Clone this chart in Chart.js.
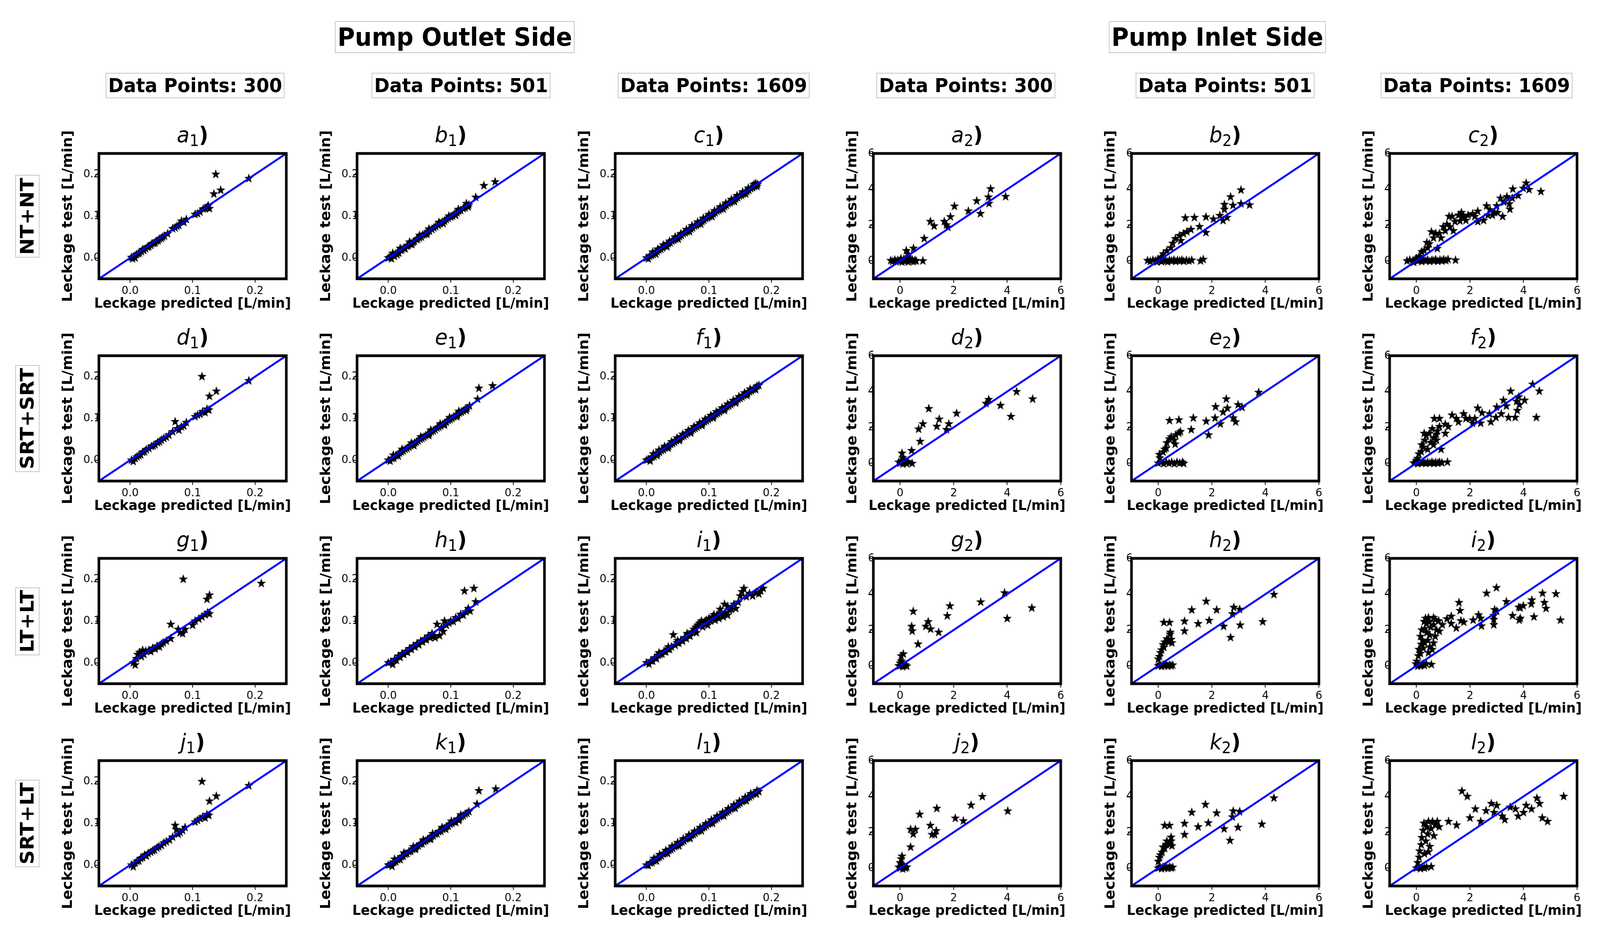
<!DOCTYPE html>
<html>
<head>
<meta charset="utf-8">
<script src="https://cdn.jsdelivr.net/npm/chart.js@4.4.0/dist/chart.umd.min.js"></script>
<style>
  html, body { margin: 0; padding: 0; background: #fff; overflow: hidden; }
  #fig { position: absolute; left: 0; top: 0; width: 4320px; height: 2392px; background: #fff; font-family: "DejaVu Sans"; transform-origin: 0 0; }
  .box { position: absolute; border: 2px solid #c4c4c4; background: #fff; font-weight: bold; white-space: nowrap;
         transform: translate(-50%, -50%); padding: 0 5px; line-height: 1.22; color: #000; }
  .side { font-size: 64px; top: 95px; }
  .pts { font-size: 50px; top: 219px; }
  .row { font-size: 51px; left: 74px; transform: translate(-50%, -50%) rotate(-90deg); }
  canvas { position: absolute; }
</style>
</head>
<body>
<div id="fig">
<div class="box side" style="left:1228px">Pump Outlet Side</div>
<div class="box side" style="left:3287px">Pump Inlet Side</div>
</div>

<script>
// ---- data: [predicted, test] ----
const a1 = [[0.002,0.001],[0.004,-0.002],[0.006,0.003],[0.008,0.0],[0.01,0.008],[0.013,0.01],[0.015,0.012],[0.018,0.015],[0.02,0.02],[0.022,0.018],[0.025,0.022],[0.028,0.026],[0.03,0.027],[0.033,0.03],[0.035,0.034],[0.038,0.035],[0.04,0.036],[0.042,0.04],[0.045,0.041],[0.047,0.045],[0.05,0.047],[0.052,0.05],[0.055,0.052],[0.06,0.058],[0.068,0.07],[0.072,0.072],[0.075,0.076],[0.078,0.078],[0.082,0.088],[0.086,0.085],[0.09,0.092],[0.104,0.104],[0.108,0.106],[0.112,0.11],[0.117,0.117],[0.12,0.118],[0.123,0.121],[0.125,0.125],[0.127,0.118],[0.134,0.153],[0.137,0.2],[0.145,0.162],[0.19,0.19]];
const b1 = [[0.0,0.0],[0.003,0.002],[0.005,-0.002],[0.008,0.006],[0.01,0.004],[0.012,0.01],[0.015,0.013],[0.017,0.012],[0.02,0.018],[0.022,0.02],[0.025,0.023],[0.027,0.022],[0.03,0.028],[0.032,0.03],[0.035,0.033],[0.037,0.034],[0.04,0.037],[0.042,0.04],[0.045,0.044],[0.047,0.045],[0.05,0.048],[0.053,0.05],[0.055,0.055],[0.058,0.056],[0.06,0.058],[0.063,0.062],[0.066,0.064],[0.07,0.068],[0.073,0.072],[0.076,0.075],[0.08,0.078],[0.083,0.082],[0.086,0.085],[0.09,0.088],[0.093,0.092],[0.096,0.095],[0.1,0.098],[0.103,0.1],[0.106,0.105],[0.11,0.108],[0.113,0.112],[0.116,0.114],[0.12,0.118],[0.123,0.12],[0.126,0.125],[0.129,0.127],[0.007,0.011],[0.019,0.023],[0.034,0.038],[0.05,0.054],[0.065,0.069],[0.081,0.085],[0.097,0.1],[0.112,0.116],[0.125,0.13],[0.014,0.008],[0.038,0.032],[0.062,0.057],[0.088,0.082],[0.108,0.102],[0.128,0.122],[0.14,0.145],[0.153,0.173],[0.171,0.182]];
const c1 = [[0.0,0.0],[0.003,-0.002],[0.005,0.004],[0.008,0.006],[0.011,0.008],[0.014,0.013],[0.017,0.015],[0.02,0.019],[0.023,0.021],[0.026,0.024],[0.029,0.028],[0.032,0.03],[0.035,0.034],[0.038,0.036],[0.041,0.04],[0.044,0.042],[0.047,0.045],[0.05,0.049],[0.053,0.051],[0.056,0.054],[0.059,0.058],[0.062,0.06],[0.065,0.063],[0.068,0.067],[0.071,0.069],[0.074,0.072],[0.077,0.076],[0.08,0.078],[0.083,0.081],[0.086,0.085],[0.089,0.087],[0.092,0.09],[0.095,0.094],[0.098,0.096],[0.101,0.099],[0.104,0.103],[0.107,0.105],[0.11,0.108],[0.113,0.112],[0.116,0.114],[0.119,0.117],[0.122,0.121],[0.125,0.123],[0.128,0.126],[0.131,0.13],[0.134,0.132],[0.137,0.135],[0.14,0.139],[0.143,0.141],[0.146,0.144],[0.149,0.148],[0.152,0.15],[0.155,0.153],[0.158,0.157],[0.161,0.159],[0.164,0.162],[0.167,0.166],[0.17,0.168],[0.173,0.171],[0.175,0.178],[0.178,0.176],[0.01,0.014],[0.018,0.021],[0.027,0.031],[0.037,0.04],[0.046,0.05],[0.055,0.058],[0.064,0.068],[0.073,0.077],[0.082,0.086],[0.091,0.095],[0.1,0.104],[0.109,0.113],[0.118,0.122],[0.127,0.131],[0.136,0.14],[0.145,0.149],[0.154,0.158],[0.163,0.167],[0.172,0.176],[0.015,0.009],[0.033,0.027],[0.051,0.045],[0.069,0.063],[0.087,0.081],[0.105,0.099],[0.123,0.117],[0.141,0.135],[0.159,0.153],[0.177,0.171]];
const d1 = [[0.002,0.0],[0.005,-0.003],[0.008,0.004],[0.011,0.008],[0.014,0.011],[0.017,0.013],[0.02,0.019],[0.023,0.02],[0.026,0.025],[0.03,0.028],[0.034,0.033],[0.037,0.034],[0.04,0.037],[0.044,0.042],[0.047,0.044],[0.05,0.048],[0.054,0.052],[0.058,0.055],[0.062,0.06],[0.068,0.068],[0.072,0.092],[0.075,0.075],[0.078,0.072],[0.082,0.08],[0.086,0.082],[0.09,0.09],[0.104,0.104],[0.108,0.108],[0.112,0.11],[0.116,0.116],[0.12,0.114],[0.123,0.122],[0.126,0.12],[0.115,0.2],[0.127,0.153],[0.138,0.165],[0.19,0.19]];
const e1 = [[0.0,0.0],[0.003,-0.002],[0.006,0.004],[0.009,0.005],[0.012,0.011],[0.015,0.012],[0.018,0.017],[0.021,0.02],[0.024,0.022],[0.027,0.026],[0.03,0.028],[0.033,0.031],[0.036,0.035],[0.039,0.037],[0.042,0.041],[0.045,0.043],[0.048,0.046],[0.051,0.05],[0.054,0.052],[0.057,0.055],[0.06,0.059],[0.063,0.061],[0.066,0.064],[0.069,0.068],[0.072,0.07],[0.075,0.073],[0.078,0.077],[0.081,0.079],[0.084,0.082],[0.087,0.086],[0.09,0.088],[0.093,0.091],[0.096,0.095],[0.099,0.097],[0.102,0.1],[0.105,0.104],[0.108,0.106],[0.111,0.109],[0.114,0.113],[0.117,0.115],[0.12,0.118],[0.123,0.122],[0.126,0.124],[0.008,0.012],[0.022,0.026],[0.037,0.041],[0.052,0.056],[0.068,0.072],[0.083,0.087],[0.098,0.102],[0.113,0.117],[0.016,0.01],[0.041,0.035],[0.065,0.059],[0.09,0.084],[0.11,0.104],[0.125,0.119],[0.13,0.13],[0.143,0.146],[0.145,0.172],[0.167,0.178]];
const f1 = [[0.0,0.0],[0.003,0.002],[0.006,-0.002],[0.009,0.007],[0.012,0.009],[0.015,0.014],[0.018,0.016],[0.021,0.019],[0.024,0.023],[0.027,0.025],[0.03,0.029],[0.033,0.031],[0.036,0.034],[0.039,0.038],[0.042,0.04],[0.045,0.043],[0.048,0.047],[0.051,0.049],[0.054,0.052],[0.057,0.056],[0.06,0.058],[0.063,0.061],[0.066,0.065],[0.069,0.067],[0.072,0.07],[0.075,0.074],[0.078,0.076],[0.081,0.079],[0.084,0.083],[0.087,0.085],[0.09,0.088],[0.093,0.092],[0.096,0.094],[0.099,0.097],[0.102,0.101],[0.105,0.103],[0.108,0.106],[0.111,0.11],[0.114,0.112],[0.117,0.115],[0.12,0.119],[0.123,0.121],[0.126,0.124],[0.129,0.128],[0.132,0.13],[0.135,0.133],[0.138,0.137],[0.141,0.139],[0.144,0.142],[0.147,0.146],[0.15,0.148],[0.153,0.151],[0.156,0.155],[0.159,0.157],[0.162,0.16],[0.165,0.164],[0.168,0.166],[0.171,0.169],[0.174,0.172],[0.177,0.177],[0.18,0.179],[0.011,0.015],[0.02,0.024],[0.029,0.033],[0.04,0.044],[0.049,0.053],[0.058,0.062],[0.067,0.071],[0.076,0.08],[0.085,0.089],[0.094,0.098],[0.103,0.107],[0.112,0.116],[0.121,0.125],[0.13,0.134],[0.139,0.143],[0.148,0.152],[0.157,0.161],[0.166,0.17],[0.017,0.011],[0.035,0.029],[0.053,0.047],[0.071,0.065],[0.089,0.083],[0.107,0.101],[0.125,0.119],[0.143,0.137],[0.161,0.155],[0.175,0.169]];
const g1 = [[0.005,0.0],[0.008,-0.005],[0.01,0.01],[0.012,0.02],[0.015,0.025],[0.018,0.015],[0.02,0.03],[0.022,0.02],[0.025,0.028],[0.03,0.03],[0.033,0.027],[0.036,0.035],[0.04,0.033],[0.043,0.04],[0.047,0.038],[0.05,0.045],[0.053,0.048],[0.058,0.052],[0.065,0.058],[0.065,0.092],[0.077,0.08],[0.08,0.072],[0.084,0.07],[0.088,0.08],[0.1,0.09],[0.104,0.1],[0.11,0.105],[0.115,0.11],[0.12,0.115],[0.124,0.12],[0.127,0.117],[0.085,0.2],[0.123,0.152],[0.127,0.162],[0.21,0.19]];
const h1 = [[0.0,0.0],[0.004,0.002],[0.007,-0.004],[0.01,0.008],[0.013,0.006],[0.016,0.016],[0.019,0.013],[0.022,0.022],[0.025,0.02],[0.028,0.027],[0.031,0.025],[0.034,0.034],[0.037,0.032],[0.04,0.04],[0.043,0.038],[0.046,0.046],[0.049,0.043],[0.052,0.052],[0.055,0.05],[0.058,0.057],[0.061,0.055],[0.064,0.064],[0.067,0.06],[0.07,0.07],[0.073,0.064],[0.075,0.06],[0.078,0.092],[0.082,0.065],[0.085,0.084],[0.088,0.075],[0.09,0.1],[0.093,0.09],[0.097,0.095],[0.1,0.1],[0.104,0.099],[0.108,0.108],[0.112,0.106],[0.116,0.116],[0.12,0.114],[0.124,0.122],[0.128,0.13],[0.131,0.124],[0.14,0.146],[0.122,0.172],[0.137,0.178]];
const i1 = [[0.0,0.0],[0.004,-0.003],[0.007,0.005],[0.01,0.004],[0.013,0.012],[0.016,0.01],[0.019,0.018],[0.022,0.02],[0.025,0.021],[0.028,0.027],[0.031,0.026],[0.034,0.033],[0.037,0.032],[0.04,0.038],[0.043,0.067],[0.046,0.042],[0.049,0.048],[0.052,0.047],[0.055,0.054],[0.058,0.052],[0.061,0.06],[0.064,0.058],[0.067,0.066],[0.07,0.064],[0.073,0.074],[0.076,0.08],[0.079,0.085],[0.082,0.09],[0.085,0.095],[0.088,0.1],[0.09,0.086],[0.093,0.098],[0.096,0.102],[0.1,0.106],[0.103,0.1],[0.106,0.11],[0.11,0.102],[0.113,0.115],[0.116,0.106],[0.12,0.118],[0.123,0.11],[0.126,0.12],[0.13,0.114],[0.133,0.126],[0.136,0.128],[0.14,0.14],[0.143,0.13],[0.147,0.145],[0.15,0.16],[0.153,0.17],[0.156,0.178],[0.16,0.158],[0.165,0.166],[0.17,0.16],[0.175,0.168],[0.18,0.165],[0.183,0.172],[0.187,0.178],[0.125,0.14],[0.08,0.072],[0.098,0.09],[0.02,0.024],[0.035,0.038],[0.05,0.053],[0.065,0.07],[0.108,0.115],[0.118,0.128],[0.13,0.135]];
const j1 = [[0.002,0.0],[0.005,-0.004],[0.008,0.005],[0.011,0.009],[0.014,0.01],[0.017,0.016],[0.02,0.018],[0.023,0.024],[0.026,0.022],[0.029,0.028],[0.033,0.031],[0.036,0.034],[0.039,0.036],[0.043,0.041],[0.046,0.044],[0.05,0.047],[0.054,0.053],[0.058,0.056],[0.063,0.06],[0.068,0.067],[0.072,0.095],[0.074,0.085],[0.077,0.074],[0.08,0.078],[0.084,0.083],[0.088,0.09],[0.104,0.103],[0.108,0.107],[0.112,0.111],[0.116,0.115],[0.12,0.113],[0.123,0.121],[0.126,0.119],[0.115,0.2],[0.127,0.153],[0.138,0.165],[0.19,0.19]];
const k1 = [[0.0,0.0],[0.003,0.001],[0.006,-0.003],[0.009,0.007],[0.012,0.008],[0.015,0.013],[0.018,0.015],[0.021,0.02],[0.024,0.021],[0.027,0.026],[0.03,0.027],[0.033,0.032],[0.036,0.033],[0.039,0.038],[0.042,0.039],[0.045,0.044],[0.048,0.046],[0.051,0.05],[0.054,0.051],[0.057,0.056],[0.06,0.058],[0.063,0.062],[0.066,0.063],[0.069,0.068],[0.072,0.07],[0.075,0.074],[0.078,0.075],[0.081,0.08],[0.084,0.081],[0.087,0.086],[0.09,0.088],[0.093,0.092],[0.096,0.093],[0.099,0.098],[0.102,0.1],[0.105,0.104],[0.108,0.102],[0.111,0.11],[0.114,0.111],[0.117,0.116],[0.12,0.118],[0.123,0.122],[0.126,0.124],[0.129,0.128],[0.01,0.014],[0.025,0.029],[0.04,0.044],[0.056,0.06],[0.071,0.075],[0.086,0.09],[0.101,0.105],[0.116,0.12],[0.019,0.013],[0.044,0.038],[0.068,0.062],[0.092,0.086],[0.113,0.107],[0.142,0.146],[0.145,0.178],[0.172,0.182]];
const l1 = [[0.0,0.0],[0.003,-0.001],[0.006,0.005],[0.009,0.006],[0.012,0.01],[0.015,0.013],[0.018,0.017],[0.021,0.019],[0.024,0.022],[0.027,0.026],[0.03,0.028],[0.033,0.031],[0.036,0.035],[0.039,0.037],[0.042,0.04],[0.045,0.044],[0.048,0.046],[0.051,0.049],[0.054,0.053],[0.057,0.055],[0.06,0.058],[0.063,0.062],[0.066,0.064],[0.069,0.067],[0.072,0.071],[0.075,0.073],[0.078,0.076],[0.081,0.08],[0.084,0.082],[0.087,0.085],[0.09,0.089],[0.093,0.091],[0.096,0.094],[0.099,0.098],[0.102,0.1],[0.105,0.103],[0.108,0.107],[0.111,0.109],[0.114,0.112],[0.117,0.116],[0.12,0.118],[0.123,0.121],[0.126,0.125],[0.129,0.127],[0.132,0.13],[0.135,0.134],[0.138,0.136],[0.141,0.139],[0.144,0.143],[0.147,0.145],[0.15,0.148],[0.153,0.152],[0.156,0.154],[0.159,0.157],[0.162,0.161],[0.165,0.163],[0.168,0.166],[0.171,0.17],[0.174,0.172],[0.177,0.178],[0.18,0.176],[0.012,0.016],[0.021,0.025],[0.031,0.035],[0.041,0.045],[0.05,0.054],[0.059,0.063],[0.068,0.072],[0.077,0.081],[0.086,0.09],[0.095,0.099],[0.104,0.108],[0.113,0.117],[0.122,0.126],[0.131,0.135],[0.14,0.144],[0.149,0.153],[0.158,0.162],[0.167,0.171],[0.016,0.01],[0.034,0.028],[0.052,0.046],[0.07,0.064],[0.088,0.082],[0.106,0.1],[0.124,0.118],[0.142,0.136],[0.16,0.154],[0.176,0.17]];

const a2 = [[-0.35,0.02],[-0.28,-0.03],[-0.2,0.05],[-0.15,-0.05],[-0.08,0.03],[0.0,0.0],[0.03,0.12],[0.07,-0.06],[0.12,0.04],[0.17,-0.03],[0.22,0.08],[0.27,0.22],[0.3,-0.05],[0.35,0.04],[0.4,0.0],[0.45,0.06],[0.5,-0.04],[0.55,0.02],[0.6,0.0],[0.32,0.35],[0.85,0.0],[0.23,0.57],[0.5,0.7],[0.9,1.25],[1.13,2.2],[1.27,1.95],[1.65,2.2],[1.73,2.0],[1.78,1.88],[1.88,2.46],[2.03,3.05],[2.55,2.78],[2.86,3.35],[3.0,2.64],[3.3,3.56],[3.38,4.02],[3.32,3.2],[3.94,3.59]];
const b2 = [[-0.4,0.02],[-0.3,-0.03],[-0.2,0.04],[-0.1,0.0],[-0.05,-0.06],[0.05,0.03],[0.12,-0.04],[0.2,0.05],[0.28,0.0],[0.35,-0.05],[0.42,0.04],[0.5,0.0],[0.58,0.05],[0.65,-0.03],[0.72,0.03],[0.8,0.0],[0.88,0.05],[0.95,-0.02],[1.05,0.03],[1.15,0.0],[1.25,0.04],[1.58,0.0],[1.68,0.08],[0.1,0.2],[0.0,0.1],[0.19,0.39],[0.32,0.56],[0.47,0.73],[0.54,0.98],[0.64,1.24],[0.79,1.41],[0.84,1.13],[0.94,1.52],[1.07,1.63],[1.22,1.75],[1.54,1.91],[1.78,1.58],[1.01,2.4],[1.35,2.42],[1.78,2.45],[2.06,2.33],[2.3,2.53],[2.42,2.25],[2.57,2.42],[2.47,2.87],[2.47,3.15],[2.7,3.57],[2.79,3.1],[3.09,3.19],[3.09,3.96],[3.41,3.12]];
const c2 = [[-0.35,0.0],[-0.25,0.05],[-0.15,-0.03],[-0.05,0.04],[0.05,0.0],[0.12,0.06],[0.2,-0.04],[0.28,0.05],[0.35,0.0],[0.42,0.06],[0.5,-0.03],[0.58,0.05],[0.65,0.0],[0.72,0.07],[0.8,-0.02],[0.88,0.05],[0.95,0.0],[1.02,0.07],[1.1,0.02],[1.18,0.08],[1.46,0.04],[0.0,0.15],[0.1,0.25],[-0.1,-0.08],[0.2,0.51],[0.29,0.58],[0.42,0.73],[0.39,1.02],[0.48,0.95],[0.56,1.62],[0.78,0.69],[0.64,1.28],[0.72,1.53],[0.86,1.53],[0.92,1.28],[1.0,1.9],[1.08,1.68],[1.14,2.04],[1.22,2.48],[1.33,2.48],[1.25,1.9],[1.38,1.68],[1.44,2.19],[1.57,2.55],[1.68,2.7],[1.77,2.48],[1.85,2.26],[1.93,2.55],[2.1,2.63],[2.18,2.48],[2.29,2.77],[2.29,2.19],[2.51,2.26],[2.62,3.07],[2.67,2.55],[2.75,2.85],[2.84,2.55],[2.92,2.7],[3.0,3.07],[3.03,2.7],[3.14,3.5],[3.22,2.48],[3.27,3.28],[3.38,3.58],[3.47,3.18],[3.49,2.88],[3.58,3.5],[3.6,4.01],[3.8,3.65],[3.99,4.05],[4.1,4.34],[4.21,3.98],[4.65,3.87],[1.63,2.23],[1.71,2.41]];
const d2 = [[0.0,0.0],[0.05,0.1],[0.1,-0.05],[0.15,0.2],[0.2,0.05],[0.25,-0.03],[0.3,0.08],[0.45,-0.02],[0.1,0.3],[-0.05,0.05],[0.07,0.55],[0.43,0.7],[0.75,1.21],[0.69,1.9],[0.85,2.19],[1.07,3.04],[1.37,2.05],[1.46,2.45],[1.73,1.87],[1.82,2.19],[2.11,2.78],[3.21,3.33],[3.31,3.55],[3.75,3.22],[4.14,2.6],[4.35,3.99],[4.95,3.58]];
const e2 = [[0.0,0.0],[0.1,0.05],[0.2,-0.03],[0.3,0.05],[0.4,0.0],[0.5,0.05],[0.6,-0.03],[0.7,0.05],[0.8,0.0],[0.9,0.05],[0.95,-0.02],[0.04,0.48],[0.06,0.29],[0.18,0.62],[0.24,0.77],[0.3,0.84],[0.32,1.13],[0.42,1.35],[0.48,1.46],[0.6,1.28],[0.63,1.06],[0.65,1.57],[0.77,1.68],[0.83,1.76],[0.42,2.38],[0.77,2.41],[1.23,1.87],[1.31,2.52],[1.79,2.34],[1.88,1.57],[2.12,2.52],[2.14,3.15],[2.32,2.19],[2.42,2.85],[2.54,3.58],[2.58,3.07],[2.8,2.52],[2.89,2.3],[2.98,3.26],[3.13,3.11],[3.75,3.95]];
const f2 = [[-0.1,0.0],[-0.02,0.05],[0.05,-0.03],[0.12,0.04],[0.2,0.0],[0.28,0.05],[0.35,-0.02],[0.42,0.04],[0.5,0.0],[0.58,0.06],[0.65,-0.02],[0.72,0.04],[0.8,0.0],[0.86,0.06],[0.95,0.02],[1.16,0.06],[0.0,0.15],[4.34,4.4],[4.59,4.02],[4.48,2.55],[3.52,4.02],[4.04,3.51],[3.82,3.7],[3.74,3.45],[3.85,3.26],[3.77,2.94],[3.69,2.55],[3.44,2.55],[3.25,3.51],[3.36,3.19],[3.17,2.75],[3.0,3.13],[2.97,2.55],[2.78,2.3],[2.73,2.75],[2.4,2.23],[2.29,3.07],[2.45,2.81],[2.18,2.49],[2.1,2.23],[1.99,2.49],[1.85,2.49],[1.76,2.75],[1.57,2.3],[1.49,2.49],[1.33,2.68],[1.19,2.04],[1.08,2.17],[1.08,1.66],[0.86,2.49],[0.67,2.49],[0.86,2.04],[0.92,0.77],[0.75,1.28],[0.78,1.79],[0.64,1.4],[0.59,1.92],[0.53,1.15],[0.48,1.66],[0.37,1.53],[0.31,1.28],[0.2,1.02],[0.18,0.64],[0.09,0.51],[0.04,0.26],[0.42,0.77],[0.29,1.66],[0.26,0.89],[0.64,1.02],[0.75,1.6]];
const g2 = [[0.0,0.0],[0.05,0.1],[0.1,-0.05],[0.15,0.03],[0.2,0.05],[0.25,-0.02],[0.0,0.15],[-0.05,0.0],[0.49,3.04],[0.43,2.2],[0.45,1.94],[0.67,1.21],[0.04,0.55],[0.12,0.66],[0.04,0.26],[0.96,2.2],[1.05,2.46],[1.14,2.05],[1.44,1.87],[1.76,2.79],[1.86,3.34],[3.01,3.56],[3.9,4.07],[4.0,2.64],[4.92,3.23]];
const h2 = [[0.0,0.0],[0.06,0.06],[0.12,-0.03],[0.18,0.05],[0.24,0.0],[0.3,0.06],[0.36,-0.02],[0.42,0.05],[0.48,0.0],[0.54,0.04],[0.0,0.37],[0.04,0.51],[0.08,0.73],[0.12,0.88],[0.18,1.17],[0.21,1.03],[0.24,1.32],[0.32,1.5],[0.39,1.32],[0.44,1.76],[0.48,1.47],[0.51,1.28],[0.45,1.87],[0.21,2.42],[0.42,2.42],[0.98,1.94],[0.98,2.49],[1.25,3.12],[1.49,2.35],[1.79,3.6],[1.9,2.53],[2.18,3.12],[2.44,2.2],[2.7,1.58],[2.77,2.9],[2.82,3.26],[3.04,3.15],[3.06,2.27],[3.9,2.46],[4.32,3.98]];
const i2 = [[2.99,4.36],[2.62,4.05],[4.71,4.05],[5.21,4.02],[1.59,3.53],[1.63,3.08],[3.36,3.58],[4.31,3.67],[4.29,3.45],[4.78,3.53],[4.84,3.2],[3.99,3.35],[3.82,3.27],[3.88,3.24],[2.92,3.13],[3.0,3.05],[3.59,2.8],[3.84,2.55],[3.88,2.65],[4.39,2.73],[5.38,2.55],[2.32,2.84],[2.4,2.65],[2.43,2.22],[2.12,2.55],[2.89,2.8],[2.89,2.58],[2.89,2.29],[1.3,2.76],[1.3,2.36],[1.14,2.62],[1.49,2.11],[1.66,2.51],[1.77,2.44],[0.56,0.07],[0.29,2.47],[0.45,2.69],[0.64,2.69],[0.83,2.51],[0.97,2.29],[0.86,1.93],[0.7,1.64],[0.64,1.27],[0.5,1.05],[0.45,0.73],[0.15,1.64],[0.2,2.0],[0.31,2.07],[0.39,1.85],[0.23,1.42],[0.31,1.27],[0.09,0.91],[0.07,0.55],[0.01,0.25],[0.15,0.69],[0.26,0.98],[0.42,1.42],[0.53,2.15],[0.64,2.29],[0.75,2.0],[0.37,2.36],[0.5,1.71],[0.59,0.91],[0.48,2.44],[0.7,2.58],[0.34,2.65],[0.18,1.2],[0.26,0.11],[0.09,0.07],[0.37,0.11],[-0.02,0.1],[0.15,0.0],[0.2,0.05],[0.05,-0.02],[0.3,0.02]];
const j2 = [[0.0,0.0],[0.05,0.1],[0.1,-0.05],[0.15,0.05],[0.2,0.0],[0.0,0.3],[-0.05,0.05],[0.25,0.05],[0.07,0.66],[0.04,0.51],[0.04,0.22],[0.39,1.17],[0.39,2.16],[0.57,2.16],[0.49,1.9],[0.73,3.0],[1.13,2.38],[1.19,1.87],[1.29,1.87],[1.35,2.08],[1.37,3.33],[2.06,2.78],[2.36,2.63],[2.65,3.51],[3.07,3.99],[4.02,3.18]];
const k2 = [[0.0,0.0],[0.06,0.05],[0.12,-0.03],[0.18,0.06],[0.24,0.0],[0.3,0.05],[0.36,-0.02],[0.42,0.06],[0.48,0.0],[0.54,0.04],[0.0,0.37],[0.04,0.59],[0.08,0.73],[0.14,0.88],[0.18,1.17],[0.24,1.1],[0.3,1.32],[0.32,1.5],[0.42,1.32],[0.48,1.72],[0.48,1.5],[0.51,1.24],[0.24,2.38],[0.42,2.38],[0.98,1.87],[0.98,2.49],[1.25,3.11],[1.49,2.3],[1.76,3.55],[1.87,2.52],[2.18,3.07],[2.46,2.19],[2.68,1.54],[2.8,3.18],[2.77,2.85],[2.98,2.27],[3.04,3.15],[3.87,2.45],[4.32,3.91]];
const l2 = [[0.0,0.0],[0.08,0.05],[0.15,-0.03],[0.22,0.06],[0.3,0.0],[0.38,0.05],[0.55,0.08],[0.05,0.3],[0.1,0.6],[0.12,0.95],[0.18,1.3],[0.2,1.7],[0.25,2.1],[0.28,2.5],[0.35,1.5],[0.38,2.3],[0.42,1.9],[0.45,2.6],[0.5,1.2],[0.55,2.2],[0.6,2.6],[0.65,1.8],[0.7,2.4],[0.78,2.6],[0.85,2.3],[0.3,0.8],[0.45,0.9],[1.2,2.6],[1.5,2.4],[1.7,4.3],[1.9,4.0],[2.0,2.8],[2.2,3.3],[2.4,2.6],[2.6,3.2],[2.8,3.6],[2.9,3.1],[3.0,3.5],[3.2,2.9],[3.3,2.7],[3.5,3.4],[3.7,3.3],[3.8,2.9],[4.0,3.1],[4.1,3.5],[4.3,3.3],[4.5,3.9],[4.6,3.6],[4.7,2.8],[4.9,2.6],[5.5,4.0]];

const rowNames = ['NT+NT', 'SRT+SRT', 'LT+LT', 'SRT+LT'];
const colCounts = ['300', '501', '1609', '300', '501', '1609'];
const letters = [['a', 'b', 'c'], ['d', 'e', 'f'], ['g', 'h', 'i'], ['j', 'k', 'l']];
const panels = [
  [a1, b1, c1, a2, b2, c2],
  [d1, e1, f1, d2, e2, f2],
  [g1, h1, i1, g2, h2, i2],
  [j1, k1, l1, j2, k2, l2]
];
const outletRange = [-0.05, 0.25];
const outletTicks = [0.0, 0.1, 0.2];
const inletRange = [-1, 6];
const inletTicks = [0, 2, 4, 6];
const xTitle = 'Leckage predicted [L/min]';
const yTitle = 'Leckage test [L/min]';

// ---- layout of the figure (pixels) ----
const colLeft = [267, 964, 1661, 2358, 3055, 3752];
const rowTop = [393, 911, 1430, 1948];
const plotW = 506, plotH = 321;
const boxCenters = [527, 1245, 1927, 2608, 3308, 3987];
const YW = 130, XH = 100, PT = 120, PR = 40;

// the window may be narrower than the figure: stretch the figure onto it
const fig = document.getElementById('fig');
fig.style.transform = 'scale(' + (window.innerWidth / 4320) + ',' + (window.innerHeight / 2392) + ')';

colCounts.forEach((n, i) => {
  const d = document.createElement('div');
  d.className = 'box pts';
  d.style.left = boxCenters[i] + 'px';
  d.textContent = 'Data Points: ' + n;
  fig.appendChild(d);
});
rowNames.forEach((n, r) => {
  const d = document.createElement('div');
  d.className = 'box row';
  d.style.top = (rowTop[r] + plotH / 2) + 'px';
  d.textContent = n;
  fig.appendChild(d);
});

function starImage(r) {
  const c = document.createElement('canvas');
  const s = Math.ceil(r * 2) + 2;
  c.width = c.height = s;
  const g = c.getContext('2d');
  g.beginPath();
  for (let i = 0; i < 10; i++) {
    const rad = i % 2 ? r * 0.4 : r;
    const ang = -Math.PI / 2 + i * Math.PI / 5;
    g.lineTo(s / 2 + rad * Math.cos(ang), s / 2 + rad * Math.sin(ang));
  }
  g.closePath();
  g.fillStyle = '#000';
  g.fill();
  return c;
}
const star = starImage(13);

const decor = {
  id: 'decor',
  beforeDatasetsDraw(chart) {
    const a = chart.chartArea, g = chart.ctx;
    g.save();
    g.fillStyle = '#fff';
    g.fillRect(a.left + 3, a.top, a.right - a.left - 3, a.bottom - a.top);
    g.restore();
  },
  afterDraw(chart, args, o) {
    const a = chart.chartArea, g = chart.ctx;
    const cx = (a.left + a.right) / 2;
    g.save();
    g.strokeStyle = '#000';
    g.lineWidth = 7;
    g.strokeRect(a.left, a.top, a.right - a.left, a.bottom - a.top);
    g.fillStyle = '#000';
    g.textAlign = 'center';
    g.textBaseline = 'alphabetic';
    g.font = 'bold 36px "DejaVu Sans"';
    g.fillText(xTitle, cx, a.bottom + 74);
    g.save();
    g.translate(a.left - o.yOff, (a.top + a.bottom) / 2);
    g.rotate(-Math.PI / 2);
    g.textBaseline = 'middle';
    g.font = 'bold 38px "DejaVu Sans"';
    g.fillText(yTitle, 0, 0);
    g.restore();
    // panel title like a_1)
    const base = a.top - 29;
    const fL = 'italic 56px "DejaVu Sans"', fS = '40px "DejaVu Sans"', fP = 'bold 56px "DejaVu Sans"';
    g.textAlign = 'left';
    g.font = fL; const w1 = g.measureText(o.letter).width;
    g.font = fS; const w2 = g.measureText(o.sub).width;
    g.font = fP; const w3 = g.measureText(')').width;
    let x = cx - (w1 + w2 + w3) / 2;
    g.font = fL; g.fillText(o.letter, x, base); x += w1;
    g.font = fS; g.fillText(o.sub, x, base + 10); x += w2;
    g.font = fP; g.fillText(')', x, base);
    g.restore();
  }
};

function axis(range, ticks, fmt, isX) {
  return {
    type: 'linear',
    min: range[0],
    max: range[1],
    afterBuildTicks: s => { s.ticks = ticks.map(v => ({ value: v })); },
    afterFit: s => { if (isX) s.height = XH; else s.width = YW; },
    grid: { display: true, drawOnChartArea: false, drawTicks: true, tickLength: 10, color: '#000', lineWidth: 2 },
    border: { display: false },
    ticks: {
      font: { family: 'DejaVu Sans', size: 29 },
      color: '#000',
      padding: isX ? 4 : -14,
      maxRotation: 0,
      autoSkip: false,
      callback: v => fmt(v)
    }
  };
}

panels.forEach((rowData, r) => {
  rowData.forEach((pts, c) => {
    const inlet = c > 2;
    const range = inlet ? inletRange : outletRange;
    const ticks = inlet ? inletTicks : outletTicks;
    const fmt = inlet ? (v => String(v)) : (v => v.toFixed(1));
    const cv = document.createElement('canvas');
    const W = YW + plotW + PR, H = PT + plotH + XH;
    cv.style.width = W + 'px'; cv.style.height = H + 'px';
    cv.style.left = (colLeft[c] - YW) + 'px';
    cv.style.top = (rowTop[r] - PT) + 'px';
    fig.appendChild(cv);
    new Chart(cv, {
      type: 'scatter',
      data: {
        datasets: [
          {
            type: 'line',
            data: [{ x: range[0], y: range[0] }, { x: range[1], y: range[1] }],
            borderColor: '#0000ff',
            borderWidth: 5,
            pointRadius: 0,
            order: 0
          },
          {
            data: pts.map(p => ({ x: p[0], y: p[1] })),
            pointStyle: star,
            order: 1
          }
        ]
      },
      options: {
        responsive: false,
        animation: false,
        events: [],
        layout: { padding: { left: 0, top: PT, right: PR, bottom: 0 } },
        plugins: {
          legend: { display: false },
          tooltip: { enabled: false },
          decor: { letter: letters[r][c % 3], sub: inlet ? '2' : '1', yOff: inlet ? 56 : 83 }
        },
        scales: {
          x: axis(range, ticks, fmt, true),
          y: axis(range, ticks, fmt, false)
        }
      },
      plugins: [decor]
    });
  });
});
</script>
</body>
</html>
